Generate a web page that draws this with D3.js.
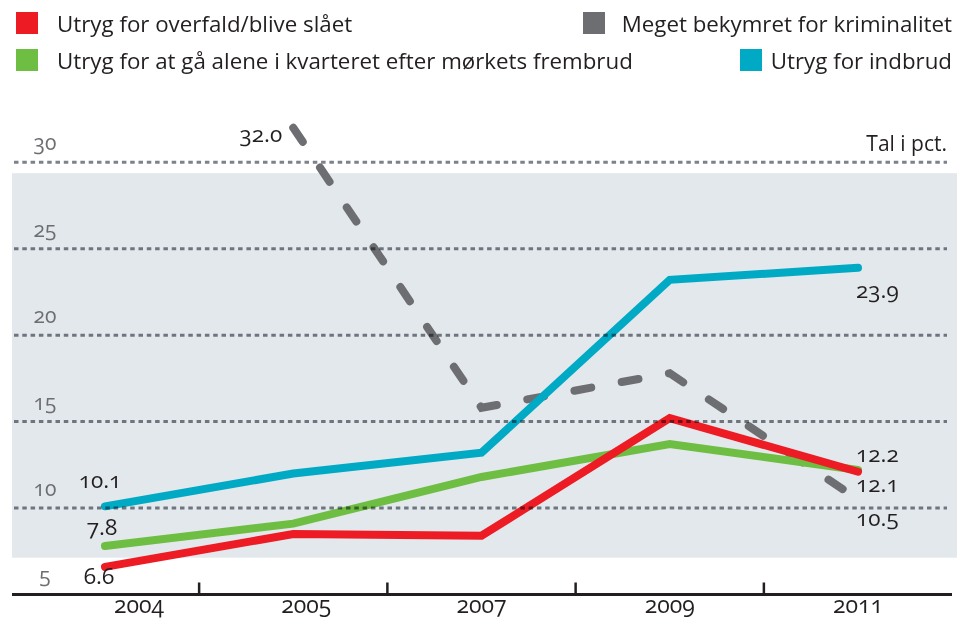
<!DOCTYPE html>
<html><head><meta charset="utf-8">
<script src="https://cdn.jsdelivr.net/npm/d3@7"></script>
<style>
html,body{margin:0;padding:0;background:#fff;}
svg{display:block;}
.num{font-family:"Open Sans",sans-serif;font-variant-numeric:oldstyle-nums;font-feature-settings:"onum" 1;}
</style></head>
<body>
<svg id="chart" width="957" height="618"></svg>
<script>
// ---- data ----
const years = ["2004","2005","2007","2009","2011"];
const overfald = [6.6, 8.5, 8.4, 15.2, 12.1];
const alene = [7.8, 9.1, 11.8, 13.7, 12.2];
const indbrud = [10.1, 12.0, 13.2, 23.2, 23.9];
const kriminalitet = [null, 32.0, 15.8, 17.8, 10.5];
const yTicks = [5, 10, 15, 20, 25, 30];
const seriesNames = ["Utryg for overfald/blive slået", "Meget bekymret for kriminalitet",
  "Utryg for at gå alene i kvarteret efter mørkets frembrud", "Utryg for indbrud"];
const unitLabel = "Tal i pct.";

const colors = {overfald:"#ed1c24", alene:"#6fbe44", indbrud:"#00aac5", kriminalitet:"#6d6e71"};
const dark = "#231f20";

const svg = d3.select("#chart");
const x = d3.scalePoint().domain(years).range([105, 858]);
const y = d3.scaleLinear().domain([5, 30]).range([594.5, 162.3]);

// background band
svg.append("rect").attr("x", 12).attr("y", y(29.37)).attr("width", 945)
  .attr("height", y(7.13) - y(29.37)).attr("fill", "#e3e8ec");

// y labels
svg.append("g").selectAll("text").data(yTicks).join("text")
  .attr("class","num").attr("x", 45).attr("y", d => y(d) - 12)
  .attr("text-anchor","middle").attr("font-size", 21).attr("fill", "#6d6e71")
  .text(d => d);

// unit label
svg.append("text").attr("x", 947).attr("y", y(30) - 11).attr("text-anchor","end")
  .attr("font-family","Open Sans, sans-serif").attr("font-size", 21).attr("fill", dark)
  .text(unitLabel);

// x axis line + ticks
svg.append("line").attr("x1", 12).attr("x2", 952).attr("y1", y(5)).attr("y2", y(5))
  .attr("stroke", dark).attr("stroke-width", 3);
const mids = years.slice(1).map((d, i) => (x(years[i]) + x(d)) / 2);
svg.append("g").selectAll("line").data(mids).join("line")
  .attr("x1", d => d).attr("x2", d => d).attr("y1", y(5)).attr("y2", y(5) - 12)
  .attr("stroke", dark).attr("stroke-width", 2.5);
const yearShift = {"2004": 34, "2005": 13};
svg.append("g").selectAll("text").data(years).join("text")
  .attr("class","num").attr("x", d => x(d) + (yearShift[d] || 0)).attr("y", y(5) + 18)
  .attr("text-anchor","middle").attr("font-size", 23).attr("fill", dark).text(d => d);

// lines
const line = d3.line().defined(d => d.v != null).x(d => x(d.k)).y(d => y(d.v));
const toPts = arr => arr.map((v, i) => ({k: years[i], v}));
const drawLine = (arr, col, dash) => {
  const p = svg.append("path").datum(toPts(arr)).attr("d", line)
    .attr("fill","none").attr("stroke", col).attr("stroke-width", 8)
    .attr("stroke-linejoin","miter").attr("stroke-linecap","round");
  if (dash) p.attr("stroke-dasharray", dash);
};
drawLine(kriminalitet, colors.kriminalitet, "17,31");
drawLine(indbrud, colors.indbrud);
drawLine(alene, colors.alene);
drawLine(overfald, colors.overfald);

// gridlines on top, multiplied
svg.append("g").style("mix-blend-mode","multiply").selectAll("line")
  .data(yTicks.filter(d => d > 5)).join("line")
  .attr("x1", 14).attr("x2", 947).attr("y1", d => y(d)).attr("y2", d => y(d))
  .attr("stroke", "#7d8189").attr("stroke-width", 3).attr("stroke-dasharray", "4.5,3.8");

// value labels
const lab = (txt, px, py, anchor) => svg.append("text").attr("class","num")
  .attr("x", px).attr("y", py).attr("text-anchor", anchor).attr("font-size", 22.5)
  .attr("fill", dark).text(txt);
const f = v => v.toFixed(1);
lab(f(kriminalitet[1]), x(years[1]) - 11, y(kriminalitet[1]) + 14, "end");
lab(f(indbrud[0]), x(years[0]) - 5, y(indbrud[0]) - 18, "middle");
lab(f(alene[0]), x(years[0]) - 3, y(alene[0]) - 11, "middle");
lab(f(overfald[0]), x(years[0]) - 6, y(overfald[0]) + 17, "middle");
lab(f(indbrud[4]), x(years[4]) - 2, y(indbrud[4]) + 30, "start");
lab(f(alene[4]), x(years[4]) - 2, y(alene[4]) - 8, "start");
lab(f(overfald[4]), x(years[4]) - 2, y(overfald[4]) + 20, "start");
lab(f(kriminalitet[4]), x(years[4]) - 2, y(kriminalitet[4]) + 27, "start");

// legend
const legend = [
  {name: seriesNames[0], col: colors.overfald, sx: 16, sy: 12, tx: 57, anchor: "start"},
  {name: seriesNames[1], col: colors.kriminalitet, sx: 583, sy: 12, tx: 952, anchor: "end"},
  {name: seriesNames[2], col: colors.alene, sx: 16, sy: 49, tx: 57, anchor: "start"},
  {name: seriesNames[3], col: colors.indbrud, sx: 740, sy: 49, tx: 952, anchor: "end"}
];
const lg = svg.append("g").selectAll("g").data(legend).join("g");
lg.append("rect").attr("x", d => d.sx).attr("y", d => d.sy).attr("width", 22).attr("height", 22)
  .attr("fill", d => d.col);
lg.append("text").attr("x", d => d.tx).attr("y", d => d.sy + 20).attr("text-anchor", d => d.anchor)
  .attr("font-family","Open Sans, sans-serif").attr("font-size", 22.3).attr("fill", dark)
  .text(d => d.name);
</script>
</body></html>
